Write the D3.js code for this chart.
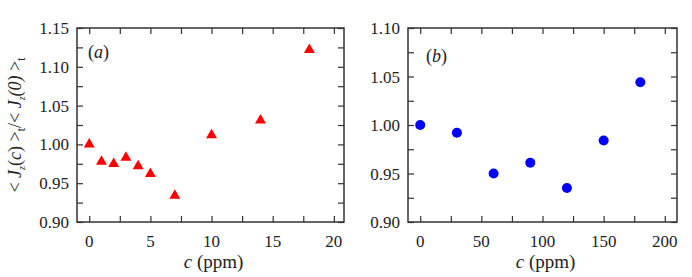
<!DOCTYPE html>
<html>
<head>
<meta charset="utf-8">
<script src="https://cdn.jsdelivr.net/npm/d3@7"></script>
<style>
  body { margin: 0; background: #fff; }
</style>
</head>
<body>
<div id="chart"></div>
<script>
// data
var cA = [0, 1, 2, 3, 4, 5, 7, 10, 14, 18];
var ratioA = [1.000, 0.978, 0.975, 0.983, 0.972, 0.962, 0.934, 1.012, 1.031, 1.122];
var cB = [0, 30, 60, 90, 120, 150, 180];
var ratioB = [1.000, 0.992, 0.950, 0.961, 0.935, 0.984, 1.044];
var xTicksA = [0, 5, 10, 15, 20];
var yTicksA = [0.90, 0.95, 1.00, 1.05, 1.10, 1.15];
var xTicksB = [0, 50, 100, 150, 200];
var yTicksB = [0.90, 0.95, 1.00, 1.05, 1.10];

var FONT = "'Liberation Serif'";

var svg = d3.select("#chart").append("svg")
  .attr("width", 692)
  .attr("height", 277)
  .style("font-family", FONT);

var plotTop = 28, plotBottom = 222;

function label(sel) {
  return sel.append("text").style("font-family", FONT).style("fill", "#222");
}

function panel(opts) {
  var x = d3.scaleLinear().domain(opts.xDomain).range([opts.left, opts.right]);
  var y = d3.scaleLinear().domain(opts.yDomain).range([plotBottom, plotTop]);
  var g = svg.append("g");

  var tk = 6;
  var xMinor = [], yMinor = [];
  for (var i = 0; i < opts.xTicks.length - 1; i++)
    xMinor.push((opts.xTicks[i] + opts.xTicks[i + 1]) / 2);
  for (var j = 0; j < opts.yTicks.length - 1; j++)
    yMinor.push((opts.yTicks[j] + opts.yTicks[j + 1]) / 2);
  var xAll = opts.xTicks.concat(xMinor), yAll = opts.yTicks.concat(yMinor);

  // inward ticks on all four sides
  g.append("g").attr("transform", "translate(0," + plotBottom + ")")
    .call(d3.axisBottom(x).tickValues(xAll).tickSizeInner(-tk).tickSizeOuter(0).tickFormat(""));
  g.append("g").attr("transform", "translate(0," + plotTop + ")")
    .call(d3.axisTop(x).tickValues(xAll).tickSizeInner(-tk).tickSizeOuter(0).tickFormat(""));
  g.append("g").attr("transform", "translate(" + opts.left + ",0)")
    .call(d3.axisLeft(y).tickValues(yAll).tickSizeInner(-tk).tickSizeOuter(0).tickFormat(""));
  g.append("g").attr("transform", "translate(" + opts.right + ",0)")
    .call(d3.axisRight(y).tickValues(yAll).tickSizeInner(-tk).tickSizeOuter(0).tickFormat(""));
  g.selectAll(".domain").remove();
  g.selectAll(".tick text").remove();
  g.selectAll(".tick line").attr("stroke", "#333").attr("stroke-width", 1.2);

  g.append("rect")
    .attr("x", opts.left).attr("y", plotTop)
    .attr("width", opts.right - opts.left).attr("height", plotBottom - plotTop)
    .attr("fill", "none").attr("stroke", "#333").attr("stroke-width", 1.5);

  // tick labels
  opts.xTicks.forEach(function(d) {
    label(g).attr("x", x(d)).attr("y", plotBottom + 25)
      .attr("text-anchor", "middle").style("font-size", "17px").text(d);
  });
  opts.yTicks.forEach(function(d) {
    label(g).attr("x", opts.left - 8).attr("y", y(d) + 6)
      .attr("text-anchor", "end").style("font-size", "17px").text(d3.format(".2f")(d));
  });

  // x label
  var xl = label(g)
    .attr("x", (opts.left + opts.right) / 2 + 3)
    .attr("y", 268)
    .attr("text-anchor", "middle")
    .style("font-size", "19px");
  xl.append("tspan").style("font-style", "italic").text("c");
  xl.append("tspan").text(" (ppm)");

  // panel letter
  var pl = label(g)
    .attr("x", opts.left + opts.letterDx)
    .attr("y", opts.letterY)
    .style("font-size", "18px");
  pl.append("tspan").text("(");
  pl.append("tspan").style("font-style", "italic").text(opts.letter);
  pl.append("tspan").text(")");

  return { g: g, x: x, y: y };
}

var pa = panel({ left: 77, right: 344, xDomain: [-1, 20.83], yDomain: [0.90, 1.15],
  xTicks: xTicksA, yTicks: yTicksA, letter: "a", letterDx: 11, letterY: 58 });
var pb = panel({ left: 408, right: 677, xDomain: [-10, 210], yDomain: [0.90, 1.10],
  xTicks: xTicksB, yTicks: yTicksB, letter: "b", letterDx: 18, letterY: 62 });

// triangles
pa.g.selectAll(".tri").data(cA).enter().append("path")
  .attr("d", d3.symbol().type(d3.symbolTriangle).size(52))
  .attr("transform", function(d, i) { return "translate(" + pa.x(d) + "," + pa.y(ratioA[i]) + ")"; })
  .attr("fill", "#ff0000");

// circles
pb.g.selectAll(".dot").data(cB).enter().append("circle")
  .attr("cx", function(d) { return pb.x(d); })
  .attr("cy", function(d, i) { return pb.y(ratioB[i]); })
  .attr("r", 5)
  .attr("fill", "#0000ff");

// y label
var yl = label(svg)
  .attr("transform", "translate(21," + (plotTop + plotBottom) / 2 + ") rotate(-90)")
  .attr("text-anchor", "middle")
  .style("font-size", "18px");
yl.append("tspan").text("< ");
yl.append("tspan").style("font-style", "italic").text("J");
yl.append("tspan").attr("dy", 4).style("font-size", "10px").style("font-style", "italic").text("z");
yl.append("tspan").attr("dy", -4).text("(");
yl.append("tspan").style("font-style", "italic").text("c");
yl.append("tspan").text(") >");
yl.append("tspan").attr("dy", 4).style("font-size", "12px").text("t");
yl.append("tspan").attr("dy", -4).text("/< ");
yl.append("tspan").style("font-style", "italic").text("J");
yl.append("tspan").attr("dy", 4).style("font-size", "10px").style("font-style", "italic").text("z");
yl.append("tspan").attr("dy", -4).style("font-style", "italic").text("(0)");
yl.append("tspan").text(" >");
yl.append("tspan").attr("dy", 4).style("font-size", "12px").text("t");
</script>
</body>
</html>
